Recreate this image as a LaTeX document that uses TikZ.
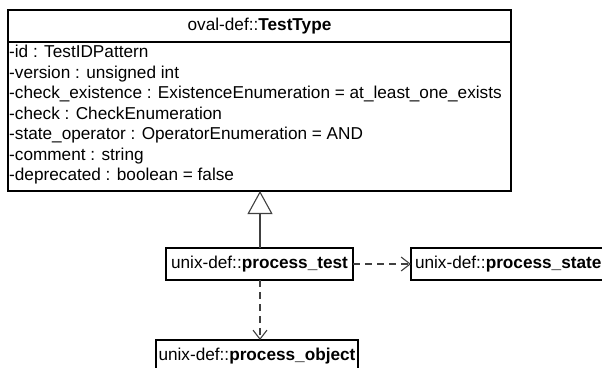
\documentclass[tikz,border=0pt]{standalone}
\usepackage{fontspec}
\setmainfont{Liberation Sans}
\usetikzlibrary{arrows.meta}
\tikzset{
  umlbox/.style={draw=black, line width=1.3pt, fill=white, inner sep=0pt, outer sep=0pt},
  lbl/.style={font=\fontsize{17.2}{20.5}\selectfont, inner sep=0pt, anchor=center},
  gen/.style={draw=black!75, line width=1.1pt, -{Triangle[open, width=25pt, length=23pt, line width=1.1pt]}},
  dep/.style={draw=black!75, line width=1.1pt, dash pattern=on 7pt off 5pt, -{Straight Barb[width=14pt, length=9pt, line width=1.1pt]}}
}
\begin{document}
\begin{tikzpicture}[x=1pt, y=-1pt]
\useasboundingbox (0,0) rectangle (602,367);
% TestType class
\draw[umlbox] (8,10) rectangle (511,191);
\draw[line width=1.3pt] (8,42) -- (511,42);
\coordinate (tbot) at (260,191);
\node[lbl] (tt) at (259.5,26) {oval-def::\textbf{TestType}};
\node[lbl, anchor=north west, align=left] (attrs) at (9,45) {%
-id : TestIDPattern\\
-version : unsigned int\\
-check\_existence : ExistenceEnumeration = at\_least\_one\_exists\\
-check : CheckEnumeration\\
-state\_operator : OperatorEnumeration = AND\\
-comment : string\\
-deprecated : boolean = false};
% process_test
\node[umlbox, lbl, minimum width=187pt, minimum height=32pt] (ptest) at (259.5,264) {unix-def::\textbf{process\_test}};
% process_state
\node[umlbox, lbl, anchor=west, minimum height=32pt, inner xsep=4pt] (pstate) at (411,264) {unix-def::\textbf{process\_state}};
% process_object
\node[umlbox, lbl, minimum width=202pt, minimum height=32pt] (pobj) at (257,356) {unix-def::\textbf{process\_object}};
% connectors
\draw[gen] (ptest.north -| tbot) -- (tbot);
\draw[dep] (ptest.east) -- (pstate.west);
\draw[dep] (ptest.south -| tbot) -- (pobj.north -| tbot);
\end{tikzpicture}
\end{document}
